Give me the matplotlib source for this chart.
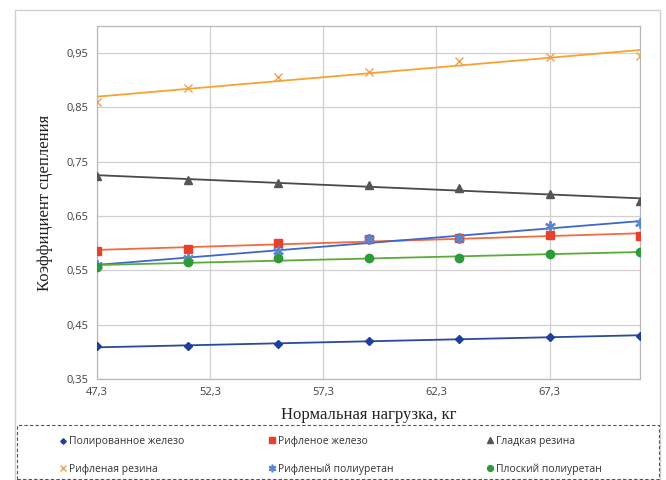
import numpy as np
import matplotlib
matplotlib.use("Agg")
import matplotlib.pyplot as plt
from matplotlib.patches import Rectangle

# load values, kg
load = [47.3, 51.3, 55.3, 59.3, 63.3, 67.3, 71.3]

series_names = [
    "Полированное железо",
    "Рифленое железо",
    "Гладкая резина",
    "Рифленая резина",
    "Рифленый полиуретан",
    "Плоский полиуретан",
]

polished_iron = [0.410, 0.410, 0.415, 0.420, 0.423, 0.428, 0.430]
ribbed_iron = [0.586, 0.589, 0.601, 0.607, 0.609, 0.616, 0.613]
smooth_rubber = [0.724, 0.716, 0.711, 0.707, 0.702, 0.690, 0.678]
ribbed_rubber = [0.860, 0.885, 0.906, 0.915, 0.936, 0.943, 0.945]
ribbed_pu = [0.559, 0.573, 0.585, 0.608, 0.609, 0.632, 0.637]
flat_pu = [0.556, 0.566, 0.572, 0.572, 0.573, 0.581, 0.583]

x_ticks = [47.3, 52.3, 57.3, 62.3, 67.3]
y_ticks = [0.35, 0.45, 0.55, 0.65, 0.75, 0.85, 0.95]

styles = [
    dict(marker="D", color="#1f3f9e", ms=4, line="#2b4a9a"),
    dict(marker="s", color="#e8402a", ms=6, line="#f26a3e"),
    dict(marker="^", color="#555555", ms=6, line="#4a4a4a"),
    dict(marker="x", color="#f0a050", ms=6, line="#f7a330"),
    dict(marker="$\\ast$", color="#5a86d0", ms=7, line="#3e68cc"),
    dict(marker="o", color="#2f9a3a", ms=6, line="#5aac3a"),
]

data = [polished_iron, ribbed_iron, smooth_rubber, ribbed_rubber, ribbed_pu, flat_pu]

fig = plt.figure(figsize=(6.66, 4.8), dpi=100)
ax = fig.add_axes([97 / 666, 1 - 379 / 480, (640 - 97) / 666, (379 - 26) / 480])

x = np.array(load)
handles = []
for name, ys, st in zip(series_names, data, styles):
    k, b = np.polyfit(x, ys, 1)
    ax.plot(x, k * x + b, color=st["line"], lw=1.3, zorder=2)
    h, = ax.plot(x, ys, ls="none", marker=st["marker"], ms=st["ms"],
                 color=st["color"], mew=1.0, zorder=3, label=name)
    handles.append(h)

ax.set_xlim(47.3, 71.3)
ax.set_ylim(0.35, 1.0)
ax.set_xticks(x_ticks)
ax.set_yticks(y_ticks)
ax.set_xticklabels([f"{v:.1f}".replace(".", ",") for v in x_ticks])
ax.set_yticklabels([f"{v:.2f}".replace(".", ",") for v in y_ticks])
ax.tick_params(length=0, labelsize=8, labelcolor="#404040", pad=6)
for lab in ax.get_xticklabels() + ax.get_yticklabels():
    lab.set_family("Open Sans")
ax.grid(True, color="#d0d0d0", lw=0.9)
ax.set_axisbelow(True)
for sp in ax.spines.values():
    sp.set_color("#b8b8b8")
    sp.set_linewidth(0.9)

ax.set_xlabel("Нормальная нагрузка, кг", family="Liberation Serif", fontsize=12,
              color="#222222", labelpad=6)
ax.set_ylabel("Коэффициент сцепления", family="Liberation Serif", fontsize=12,
              color="#222222", labelpad=10)

# outer chart border
fig.add_artist(Rectangle((15 / 666, 0), 645 / 666, 1 - 10 / 480, transform=fig.transFigure,
                         fill=False, edgecolor="#d0d0d0", lw=1.0))
# dashed legend box
fig.add_artist(Rectangle((17 / 666, 1 / 480), 642 / 666, 54 / 480, transform=fig.transFigure,
                         fill=False, edgecolor="#555555", lw=0.8, ls=(0, (3, 2))))

# one small legend per column so the columns sit where the reference has them
col_left = [58, 267, 485]
for c, xl in enumerate(col_left):
    hs = [handles[c], handles[c + 3]]
    leg = fig.legend(handles=hs, loc="lower left",
                     bbox_to_anchor=(xl / 666, 3 / 480),
                     prop={"family": "Open Sans", "size": 7.5}, handlelength=0.6,
                     handletextpad=0.3, borderpad=0.2, labelspacing=1.6, markerscale=0.7,
                     frameon=False, borderaxespad=0)
    for t in leg.get_texts():
        t.set_color("#333333")

fig.savefig("out.png", dpi=100)
